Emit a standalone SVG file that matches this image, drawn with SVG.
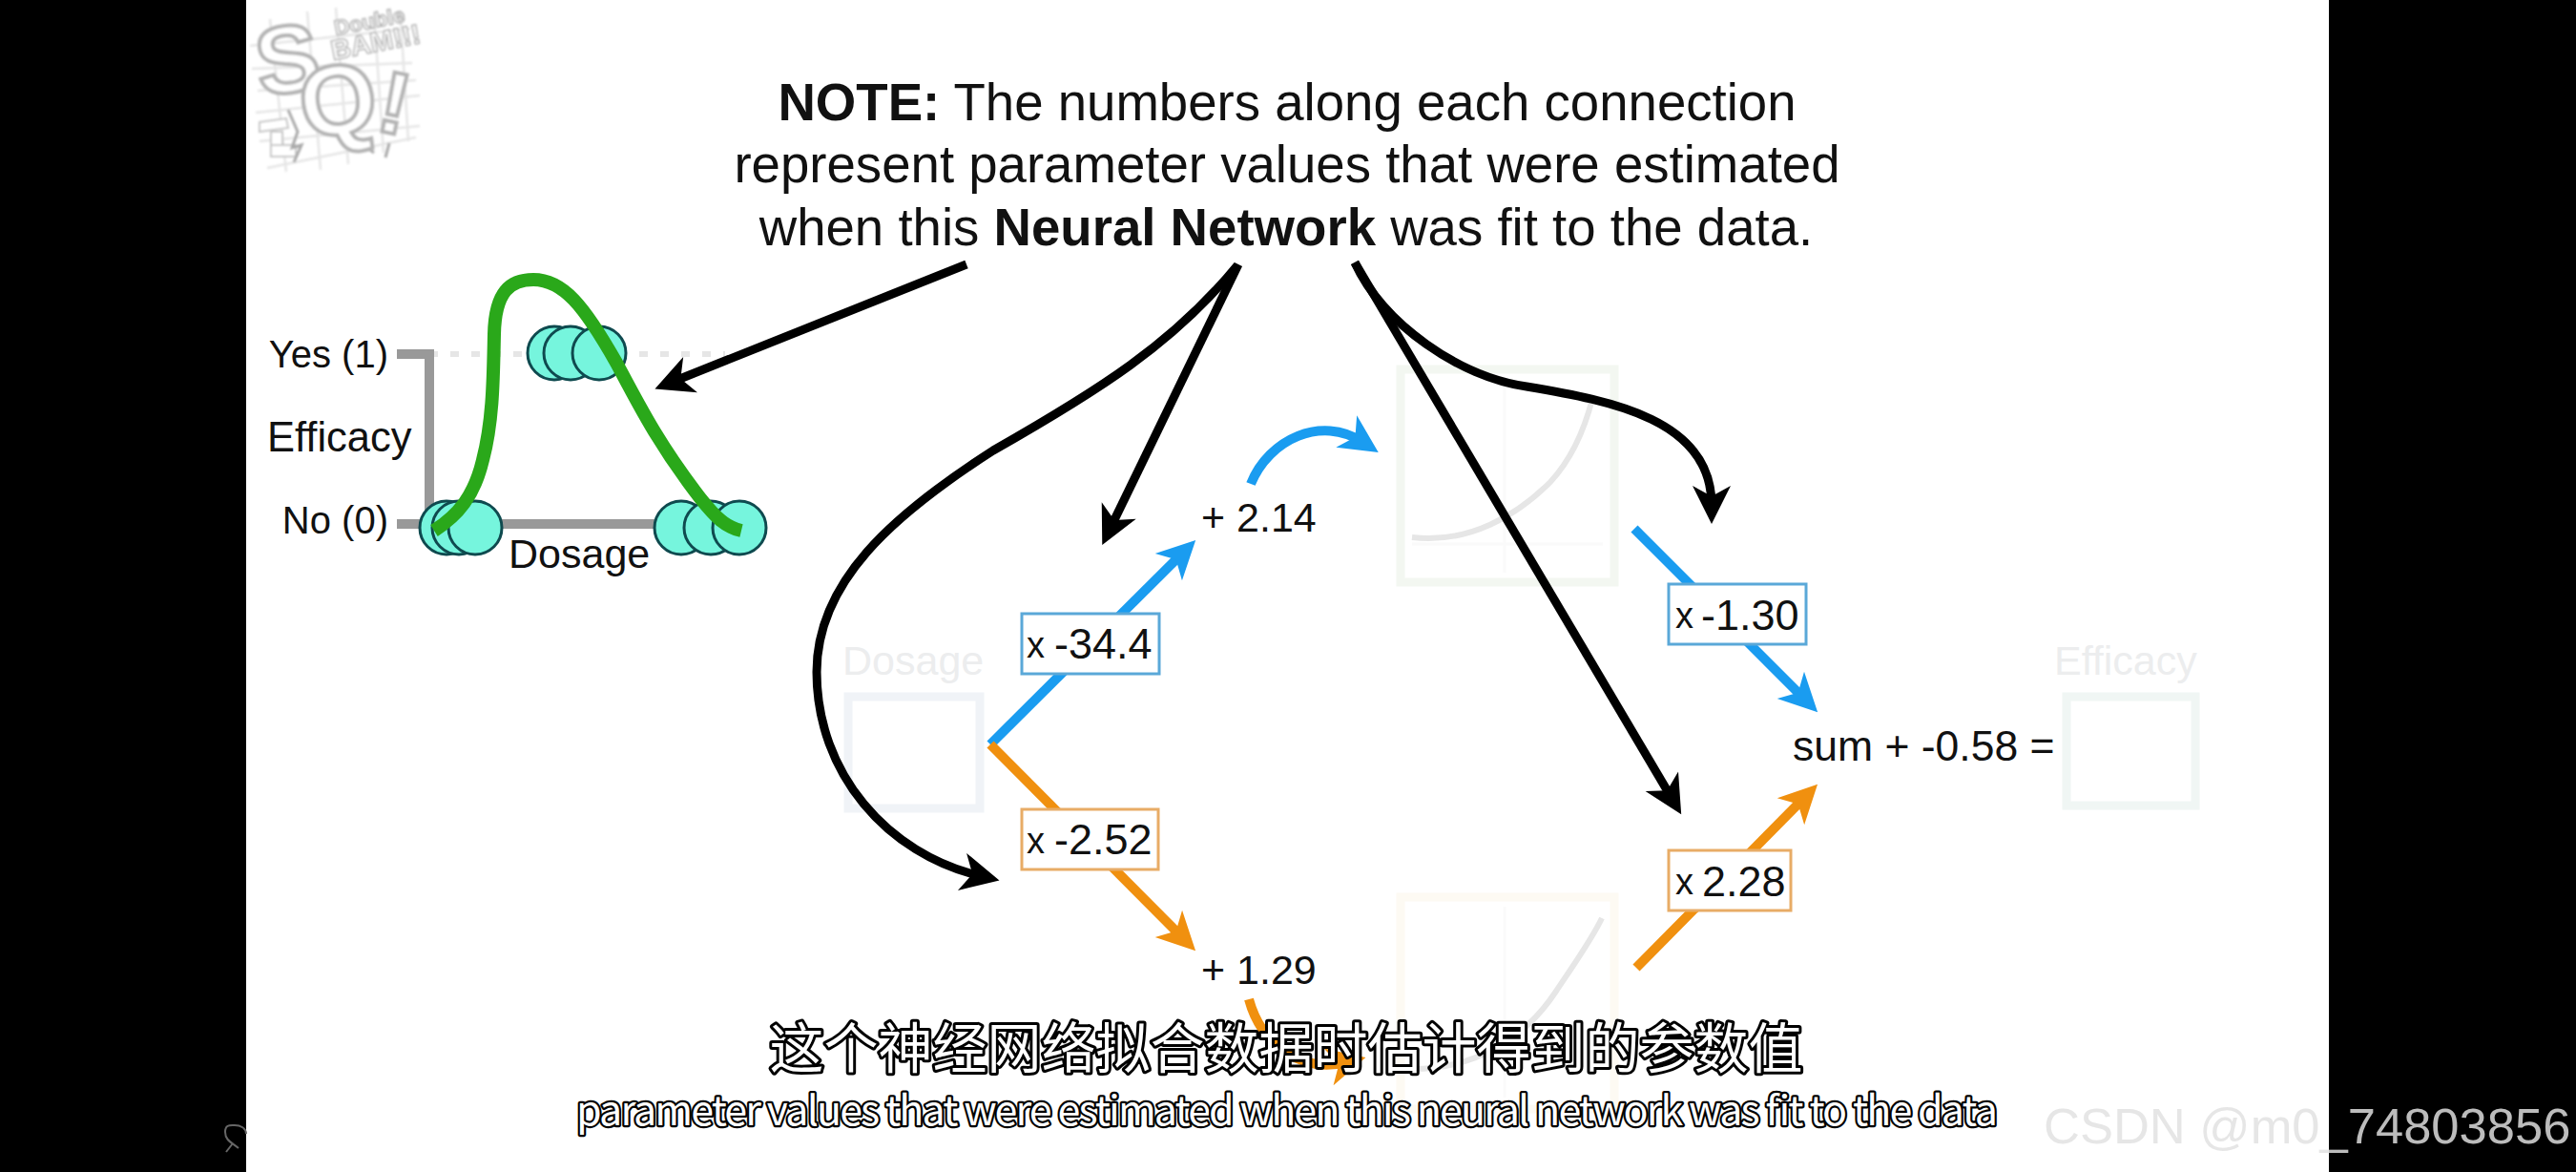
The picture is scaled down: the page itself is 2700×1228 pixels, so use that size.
<svg xmlns="http://www.w3.org/2000/svg" width="2700" height="1228" viewBox="0 0 2700 1228">
<style>
text{font-family:"Liberation Sans",Arial,sans-serif;fill:#111}
.t{font-size:45px}
.p{font-size:43px}
.h{font-size:54.6px}
.b{font-weight:700}
.x{font-size:38px}
.ax{font-size:40px}
.faint{font-size:43px;fill:#ecedee}
.wbox{fill:#fff;stroke-width:3}
.line{fill:none;stroke-width:10}
.blk{fill:none;stroke:#000;stroke-width:9}
.blue{stroke:#1a9cf0}
.org{stroke:#f0900f}
.pt{fill:#76f5dd;stroke:#0f4a4f;stroke-width:3}
.fb{fill:none;stroke-width:9}
.cv{fill:none;stroke:#e6e6e6;stroke-width:6}
.in{fill:none;stroke:#fafafa;stroke-width:3}
.sub{font-family:"Noto Sans CJK SC","Noto Sans",sans-serif;fill:#fff;stroke:#000;stroke-width:6px;paint-order:stroke;stroke-linejoin:round}
.lg{fill:#fff;stroke:#b4b4b4;stroke-width:4;font-weight:700}
.gr{fill:none;stroke:#e6e6e6;stroke-width:2.5}
</style>
<defs>
<marker id="ak" markerUnits="userSpaceOnUse" viewBox="-50 -25 75 50" markerWidth="75" markerHeight="50" refX="0" refY="0" orient="auto"><path d="M20,0L-20,-20L-9,0L-20,20Z" fill="#000"/></marker>
<marker id="ab" markerUnits="userSpaceOnUse" viewBox="-50 -25 75 50" markerWidth="75" markerHeight="50" refX="0" refY="0" orient="auto"><path d="M20,0L-20,-20L-9,0L-20,20Z" fill="#1a9cf0"/></marker>
<marker id="ao" markerUnits="userSpaceOnUse" viewBox="-50 -25 75 50" markerWidth="75" markerHeight="50" refX="0" refY="0" orient="auto"><path d="M20,0L-20,-20L-9,0L-20,20Z" fill="#f0900f"/></marker>
<linearGradient id="wm" gradientUnits="userSpaceOnUse" x1="2142" y1="0" x2="2694" y2="0"><stop offset="0.5417" stop-color="#e6e6e6"/><stop offset="0.5417" stop-color="#bcbcbc"/></linearGradient>
<filter id="soft" x="-5%" y="-5%" width="110%" height="110%"><feGaussianBlur stdDeviation="1"/></filter>
</defs>
<rect width="2700" height="1228" fill="#000"/>
<rect x="258" y="0" width="2183" height="1228" fill="#fff"/>
<path id="user-icon" d="M250,1203C243,1197 236,1195 236,1186C236,1178 241,1179 246,1179C252,1179 258,1182 258,1188M237,1207L244,1198" fill="none" stroke="#666" stroke-width="2"/>

<g id="logo" filter="url(#soft)">
<path class="gr" d="M262,48L430,30M264,72L432,66M268,118L440,100M272,148L440,132M280,176L436,144M270,95L436,84M283,20L300,180M322,12L336,178M352,8L365,172M392,14L402,160M420,20L428,148"/>
<path d="M272,128L300,124L302,134L272,138ZM284,138L296,138L296,152L284,152ZM284,152L310,152L310,164L284,164Z" fill="#fff" stroke="#c8c8c8" stroke-width="2"/>
<path d="M302,115L312,138L306,155L316,152L308,170" fill="none" stroke="#aaa" stroke-width="3"/>
<path d="M385,155L392,160M408,150L404,165" fill="none" stroke="#aaa" stroke-width="3"/>
<text class="lg" font-size="100" transform="translate(273,101) rotate(-8)">S</text>
<text class="lg" font-size="104" transform="translate(319,146) rotate(-8)">Q</text>
<text class="lg" font-size="92" transform="translate(392,136) rotate(12)">!</text>
<text class="lg" font-size="22" style="stroke-width:1.5" transform="translate(352,37) rotate(-11)">Double</text>
<text class="lg" font-size="29" style="stroke-width:1.5" transform="translate(349,63) rotate(-11)">BAM!!!</text>
</g>

<g id="note">
<text class="h" x="1349" y="126" text-anchor="middle"><tspan class="b">NOTE:</tspan> The numbers along each connection</text>
<text class="h" x="1349" y="191" text-anchor="middle">represent parameter values that were estimated</text>
<text class="h" x="1348" y="257" text-anchor="middle">when this <tspan class="b">Neural Network</tspan> was fit to the data.</text>
</g>

<g id="plot">
<path d="M450,371H760" fill="none" stroke="#e6e6e6" stroke-width="6" stroke-dasharray="9 13"/>
<path d="M416,371H450V549M416,549H700" fill="none" stroke="#999" stroke-width="10"/>
<g id="points-top"><circle class="pt" cx="581" cy="370" r="28"/><circle class="pt" cx="598" cy="370" r="28"/><circle class="pt" cx="628" cy="370" r="28"/></g>
<g id="points-left"><circle class="pt" cx="468" cy="553" r="28"/><circle class="pt" cx="481" cy="553" r="28"/><circle class="pt" cx="498" cy="553" r="28"/></g>
<g id="points-right"><circle class="pt" cx="714" cy="553" r="28"/><circle class="pt" cx="745" cy="553" r="28"/><circle class="pt" cx="775" cy="553" r="28"/></g>
<path id="fit" d="M455,556C480,540 497,520 506,482C517,440 517,395 518,350C519,305 535,293 559,293C590,293 612,320 646,380C670,425 690,465 734,522C750,542 760,552 777,556" fill="none" stroke="#2aa81a" stroke-width="14"/>
<text class="ax" x="407" y="385" text-anchor="end">Yes (1)</text>
<text x="280" y="473" style="font-size:43.5px">Efficacy</text>
<text class="ax" x="407" y="559" text-anchor="end">No (0)</text>
<text x="533" y="595" style="font-size:43px">Dosage</text>
</g>

<g id="input-dosage">
<text class="faint" x="883" y="707">Dosage</text>
<rect class="fb" x="889" y="730" width="138" height="117" stroke="#f0f3f7"/>
</g>
<g id="output-efficacy">
<text class="faint" x="2153" y="707">Efficacy</text>
<rect class="fb" x="2166" y="730" width="135" height="114" stroke="#f0f6f4"/>
</g>
<g id="activation-top">
<rect class="fb" x="1468" y="387" width="224" height="223" stroke="#f3f7f1"/>
<path class="in" d="M1577,400V600M1480,570H1680"/>
<path class="cv" d="M1480,563C1540,570 1590,540 1625,505C1650,478 1662,445 1669,418"/>
</g>
<g id="activation-bottom">
<rect class="fb" x="1468" y="940" width="224" height="222" stroke="#fdfaf3"/>
<path class="in" d="M1577,950V1150"/>
<path class="cv" d="M1480,1120C1550,1120 1600,1085 1630,1040C1650,1010 1668,985 1679,962"/>
</g>

<g id="connectors">
<path class="line blue" d="M1038,780L1239,580" marker-end="url(#ab)"/>
<path class="line org" d="M1038,780L1239,982" marker-end="url(#ao)"/>
<path class="line blue" d="M1311,507C1330,460 1385,435 1428,463" marker-end="url(#ab)"/>
<path class="line org" d="M1309,1047C1322,1095 1365,1125 1412,1113" marker-end="url(#ao)"/>
<path class="line blue" d="M1713,554L1891,732" marker-end="url(#ab)"/>
<path class="line org" d="M1715,1014L1891,836" marker-end="url(#ao)"/>
<path class="blk" d="M1013,277L705,400" marker-end="url(#ak)"/>
<path class="blk" d="M1298,277L1164,553" marker-end="url(#ak)"/>
<path class="blk" d="M1297,278C1230,360 1150,410 1041,472C935,540 856,610 856,704C856,810 930,895 1028,918" marker-end="url(#ak)"/>
<path class="blk" d="M1420,275L1752,836" marker-end="url(#ak)"/>
<path class="blk" d="M1420,275C1450,340 1530,395 1600,405C1690,420 1794,440 1794,529" marker-end="url(#ak)"/>
</g>

<g id="w1"><rect class="wbox" x="1071" y="643" width="144" height="63" stroke="#5aa8d8"/><text class="x" x="1076" y="689">x</text><text class="t" x="1105" y="690">-34.4</text></g>
<g id="w2"><rect class="wbox" x="1071" y="848" width="143" height="63" stroke="#e8ac66"/><text class="x" x="1076" y="894">x</text><text class="t" x="1105" y="895">-2.52</text></g>
<g id="w3"><rect class="wbox" x="1749" y="612" width="144" height="63" stroke="#5aa8d8"/><text class="x" x="1756" y="658">x</text><text class="t" x="1783" y="660">-1.30</text></g>
<g id="w4"><rect class="wbox" x="1749" y="891" width="128" height="63" stroke="#e8ac66"/><text class="x" x="1756" y="937">x</text><text class="t" x="1784" y="939">2.28</text></g>
<g id="b1"><text class="p" x="1259" y="557">+ 2.14</text></g>
<g id="b2"><text class="p" x="1259" y="1031">+ 1.29</text></g>
<g id="b3"><text class="t" x="1879" y="797" style="font-size:44.5px">sum + -0.58 =</text></g>

<g id="subtitles">
<text class="sub" x="1348" y="1119" text-anchor="middle" font-size="57">这个神经网络拟合数据时估计得到的参数值</text>
<text class="sub" x="604" y="1179" font-size="43" textLength="1490" style="stroke-width:4.5px">parameter values that were estimated when this neural network was fit to the data</text>
</g>
<text id="watermark" x="2142" y="1198" font-size="52.5" style="fill:url(#wm)">CSDN @m0_74803856</text>
</svg>
